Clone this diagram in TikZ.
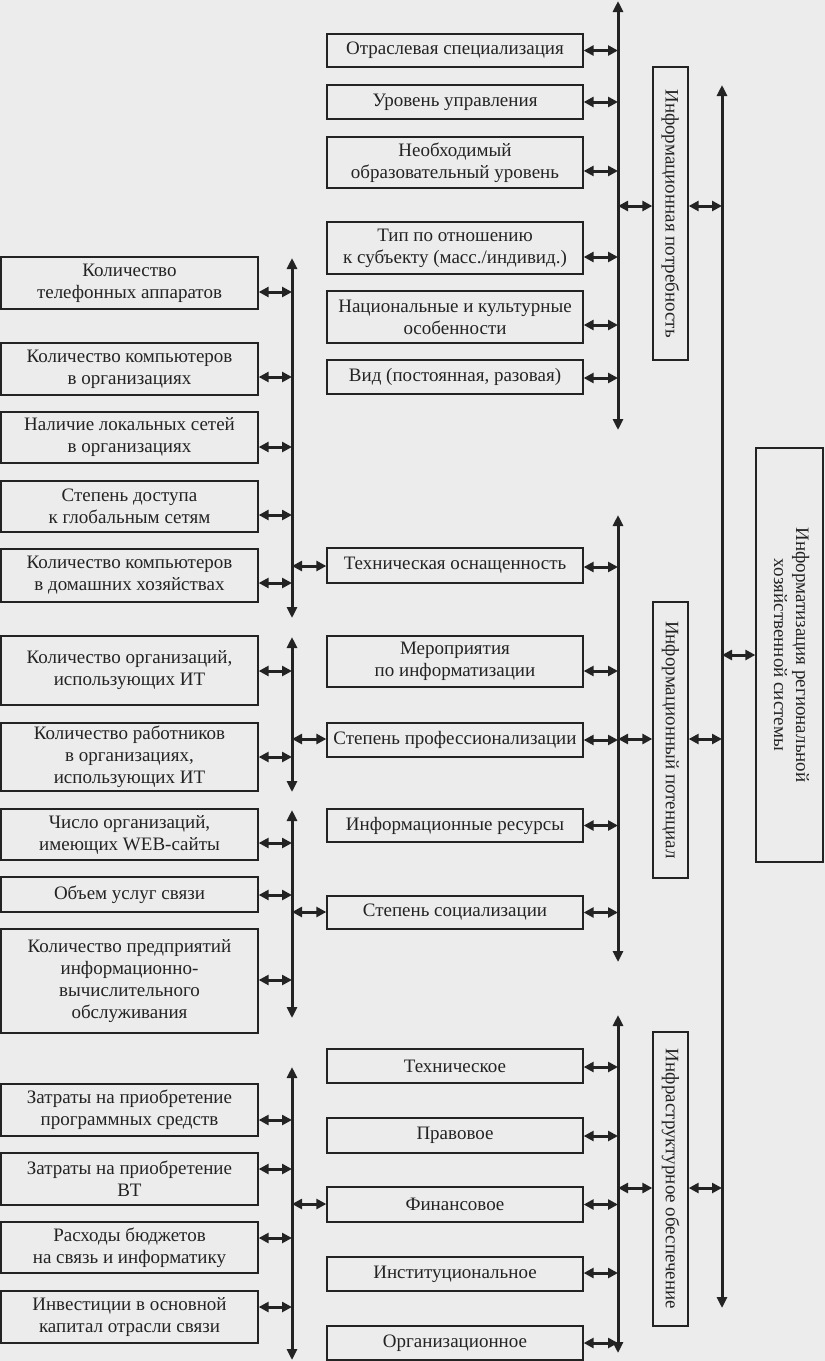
\documentclass[tikz,border=0pt]{standalone}
\usepackage{fontspec}
\setmainfont{Liberation Serif}
\usetikzlibrary{arrows.meta}
\definecolor{bg}{RGB}{236,236,236}
\definecolor{ink}{RGB}{35,35,35}
\newcommand\conn[4]{%
  \coordinate (tmp) at ([yshift=#3]#1.#2);
  \draw[dbl] (tmp) -- (tmp -| #4);}
\begin{document}
\begin{tikzpicture}[x=1pt,y=-1pt,
  box/.style={draw=ink, line width=1.3pt, inner sep=0pt, align=center,
    font=\fontsize{19}{22}\selectfont, text=ink},
  mbox/.style={box, minimum width=256pt},
  lbox/.style={box, minimum width=257pt},
  vbox/.style={box, minimum width=35pt},
  bus/.style={draw=ink, line width=3pt,
    {Triangle[length=11pt,width=10pt]}-{Triangle[length=11pt,width=10pt]}},
  dbl/.style={draw=ink, line width=3pt,
    {Triangle[length=10pt,width=10pt]}-{Triangle[length=10pt,width=10pt]}}]
\fill[bg] (0,0) rectangle (825,1361);
\useasboundingbox (0,0) rectangle (825,1361);

% bus coordinates
\coordinate (bAt) at (292,258);  \coordinate (bAb) at (292,618);
\coordinate (bBt) at (292,637);  \coordinate (bBb) at (292,792);
\coordinate (bCt) at (292,810);  \coordinate (bCb) at (292,1018);
\coordinate (bDt) at (292,1067); \coordinate (bDb) at (292,1360);
\coordinate (b1t) at (618,1);    \coordinate (b1b) at (618,430);
\coordinate (b2t) at (618,515);  \coordinate (b2b) at (618,962);
\coordinate (b3t) at (618,1015); \coordinate (b3b) at (618,1353);
\coordinate (bMt) at (722,85);   \coordinate (bMb) at (722,1308);

\draw[bus] (bAb) -- (bAt);
\draw[bus] (bBb) -- (bBt);
\draw[bus] (bCb) -- (bCt);
\draw[bus] (bDb) -- (bDt);
\draw[bus] (b1b) -- (b1t);
\draw[bus] (b2b) -- (b2t);
\draw[bus] (b3b) -- (b3t);
\draw[bus] (bMb) -- (bMt);

% middle column: information need
\node[mbox, minimum height=33pt] (m1) at (455,50.5) {Отраслевая специализация};
\node[mbox, minimum height=34pt] (m2) at (455,102) {Уровень управления};
\node[mbox, minimum height=51pt] (m3) at (455,162.5) {Необходимый\\образовательный уровень};
\node[mbox, minimum height=52pt] (m4) at (455,248) {Тип по отношению\\к субъекту (масс./индивид.)};
\node[mbox, minimum height=52pt] (m5) at (455,317) {Национальные и культурные\\особенности};
\node[mbox, minimum height=34pt] (m6) at (455,377) {Вид (постоянная, разовая)};

% middle column: information potential
\node[mbox, minimum height=35pt] (p1) at (455,565.5) {Техническая оснащенность};
\node[mbox, minimum height=51pt] (p2) at (455,661.5) {Мероприятия\\по информатизации};
\node[mbox, minimum height=34pt] (p3) at (455,740) {Степень профессионализации};
\node[mbox, minimum height=33pt] (p4) at (455,825.5) {Информационные ресурсы};
\node[mbox, minimum height=33pt] (p5) at (455,912.5) {Степень социализации};

% middle column: infrastructure
\node[mbox, minimum height=34pt] (i1) at (455,1066) {Техническое};
\node[mbox, minimum height=35pt] (i2) at (455,1135.5) {Правовое};
\node[mbox, minimum height=35pt] (i3) at (455,1204.5) {Финансовое};
\node[mbox, minimum height=34pt] (i4) at (455,1274) {Институциональное};
\node[mbox, minimum height=34pt] (i5) at (455,1343) {Организационное};

% left column
\node[lbox, minimum height=52pt] (l1) at (129.5,283) {Количество\\телефонных аппаратов};
\node[lbox, minimum height=52pt] (l2) at (129.5,369) {Количество компьютеров\\в организациях};
\node[lbox, minimum height=51pt] (l3) at (129.5,437.5) {Наличие локальных сетей\\в организациях};
\node[lbox, minimum height=51pt] (l4) at (129.5,506.5) {Степень доступа\\к глобальным сетям};
\node[lbox, minimum height=53pt] (l5) at (129.5,575.5) {Количество компьютеров\\в домашних хозяйствах};
\node[lbox, minimum height=69pt] (l6) at (129.5,670.5) {Количество организаций,\\использующих ИТ};
\node[lbox, minimum height=68pt] (l7) at (129.5,757) {Количество работников\\в организациях,\\использующих ИТ};
\node[lbox, minimum height=51pt] (l8) at (129.5,834.5) {Число организаций,\\имеющих WEB-сайты};
\node[lbox, minimum height=35pt] (l9) at (129.5,894.5) {Объем услуг связи};
\node[lbox, minimum height=104pt] (l10) at (129.5,981) {Количество предприятий\\информационно-\\вычислительного\\обслуживания};
\node[lbox, minimum height=52pt] (l11) at (129.5,1110) {Затраты на приобретение\\программных средств};
\node[lbox, minimum height=52pt] (l12) at (129.5,1179) {Затраты на приобретение\\ВТ};
\node[lbox, minimum height=51pt] (l13) at (129.5,1247.5) {Расходы бюджетов\\на связь и информатику};
\node[lbox, minimum height=52pt] (l14) at (129.5,1317) {Инвестиции в основной\\капитал отрасли связи};

% vertical boxes
\node[vbox, minimum height=293pt] (need) at (670.5,213.5) {\rotatebox{-90}{Информационная потребность}};
\node[vbox, minimum height=276pt] (pot) at (670.5,740) {\rotatebox{-90}{Информационный потенциал}};
\node[vbox, minimum height=294pt] (infra) at (670.5,1179) {\rotatebox{-90}{Инфраструктурное обеспечение}};
\node[box, minimum width=67pt, minimum height=414pt] (main) at (789.5,655)
  {\rotatebox{-90}{\begin{tabular}{@{}c@{}}Информатизация региональной\\хозяйственной системы\end{tabular}}};

% connectors: middle boxes to middle buses
\conn{m1}{east}{0pt}{b1t}
\conn{m2}{east}{0pt}{b1t}
\conn{m3}{east}{-8.5pt}{b1t}
\conn{m4}{east}{-9pt}{b1t}
\conn{m5}{east}{-8pt}{b1t}
\conn{m6}{east}{-1pt}{b1t}
\conn{p1}{east}{-1.5pt}{b2t}
\conn{p2}{east}{-9.5pt}{b2t}
\conn{p3}{east}{0pt}{b2t}
\conn{p4}{east}{0pt}{b2t}
\conn{p5}{east}{0pt}{b2t}
\conn{i1}{east}{-1pt}{b3t}
\conn{i2}{east}{-0.5pt}{b3t}
\conn{i3}{east}{0pt}{b3t}
\conn{i4}{east}{1pt}{b3t}
\conn{i5}{east}{0pt}{b3t}

% connectors: left buses to middle boxes
\conn{p1}{west}{-0.5pt}{bAt}
\conn{p3}{west}{1pt}{bBt}
\conn{p5}{west}{0.5pt}{bCt}
\conn{i3}{west}{0.5pt}{bDt}

% connectors: left boxes to left buses
\conn{l1}{east}{-9pt}{bAt}
\conn{l2}{east}{-8pt}{bAt}
\conn{l3}{east}{-9.5pt}{bAt}
\conn{l4}{east}{-8.5pt}{bAt}
\conn{l5}{east}{-7.5pt}{bAt}
\conn{l6}{east}{-0.5pt}{bBt}
\conn{l7}{east}{0pt}{bBt}
\conn{l8}{east}{-8.5pt}{bCt}
\conn{l9}{east}{-0.5pt}{bCt}
\conn{l10}{east}{1pt}{bCt}
\conn{l11}{east}{-10pt}{bDt}
\conn{l12}{east}{10pt}{bDt}
\conn{l13}{east}{9.5pt}{bDt}
\conn{l14}{east}{10pt}{bDt}

% connectors: vertical boxes
\conn{need}{west}{7.5pt}{b1t}
\conn{need}{east}{7.5pt}{bMt}
\conn{pot}{west}{1pt}{b2t}
\conn{pot}{east}{1pt}{bMt}
\conn{infra}{west}{-9pt}{b3t}
\conn{infra}{east}{-9pt}{bMt}
\conn{main}{west}{0pt}{bMt}
\end{tikzpicture}
\end{document}
